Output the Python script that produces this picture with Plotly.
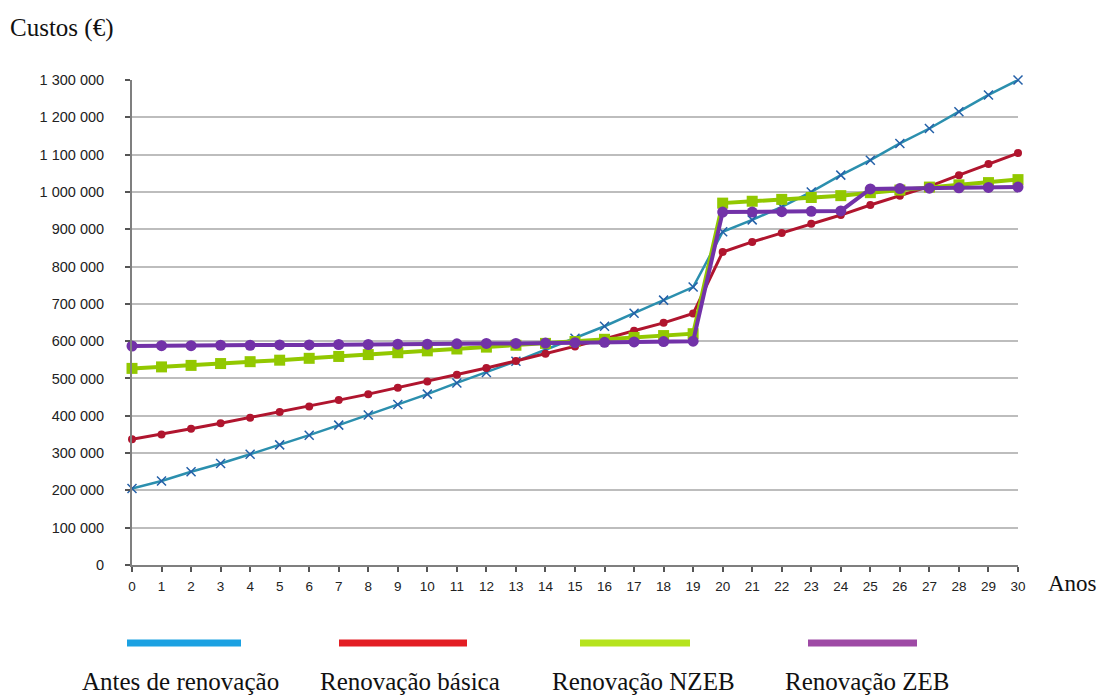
import plotly.graph_objects as go

anos = list(range(31))

antes = [205000, 225000, 250000, 272000, 297000, 322000, 348000, 375000, 402000, 430000,
         458000, 488000, 516000, 546000, 577000, 608000, 640000, 675000, 710000, 745000,
         893000, 925000, 960000, 1000000, 1045000, 1085000, 1130000, 1170000, 1215000, 1260000, 1300000]
basica = [337000, 350000, 365000, 380000, 395000, 410000, 425000, 442000, 458000, 475000,
          492000, 510000, 528000, 547000, 566000, 586000, 606000, 628000, 649000, 674000,
          839000, 866000, 890000, 915000, 938000, 965000, 990000, 1015000, 1045000, 1075000, 1104000]
nzeb = [527000, 531000, 535000, 540000, 545000, 549000, 554000, 559000, 564000, 569000,
        574000, 579000, 584000, 589000, 594000, 599000, 605000, 610000, 615000, 620000,
        970000, 975000, 980000, 985000, 990000, 998000, 1005000, 1013000, 1019000, 1025000, 1033000]
zeb = [587000, 588000, 588000, 589000, 589000, 590000, 590000, 591000, 591000, 592000,
       592000, 593000, 594000, 594000, 595000, 596000, 597000, 598000, 599000, 600000,
       946000, 946000, 947000, 948000, 949000, 1008000, 1009000, 1010000, 1011000, 1012000, 1013000]

nomes = ["Antes de renovação", "Renovação básica", "Renovação NZEB", "Renovação ZEB"]
y_ticks = list(range(0, 1300001, 100000))

fig = go.Figure()
fig.add_trace(go.Scatter(x=anos, y=antes, mode="lines+markers", name=nomes[0],
                         line=dict(color="#2B8FAE", width=2.5),
                         marker=dict(symbol="x-thin-open", size=9, color="#2460A8",
                                     line=dict(width=1.5, color="#2460A8")),
                         cliponaxis=False))
fig.add_trace(go.Scatter(x=anos, y=basica, mode="lines+markers", name=nomes[1],
                         line=dict(color="#B0152E", width=3),
                         marker=dict(symbol="circle", size=8, color="#B0152E"),
                         cliponaxis=False))
fig.add_trace(go.Scatter(x=anos, y=nzeb, mode="lines+markers", name=nomes[2],
                         line=dict(color="#92C800", width=4),
                         marker=dict(symbol="square", size=11, color="#92C800"),
                         cliponaxis=False))
fig.add_trace(go.Scatter(x=anos, y=zeb, mode="lines+markers", name=nomes[3],
                         line=dict(color="#7232A8", width=4),
                         marker=dict(symbol="circle", size=11, color="#7232A8"),
                         cliponaxis=False))

# page body has an 8px margin: shift everything up-left by 8px
fig.update_layout(
    width=1091, height=689,
    margin=dict(l=124, r=81, t=72, b=132, autoexpand=False),
    paper_bgcolor="white", plot_bgcolor="white",
    showlegend=False,
    separators=", ",
    font=dict(family="Liberation Sans, Arial", size=13, color="#333333"),
)
fig.update_xaxes(range=[0, 30], tickmode="array", tickvals=anos,
                 showgrid=False, showline=True, linecolor="#7F7F7F", linewidth=2,
                 ticks="outside", ticklen=5, tickcolor="#555555", tickwidth=2,
                 tickfont=dict(size=13.5, color="#222222"), zeroline=False,
                 ticklabelstandoff=3)
fig.update_yaxes(range=[0, 1300000], tickmode="array", tickvals=y_ticks,
                 tickformat=",d", showgrid=True, gridcolor="#BDBDBD", gridwidth=2,
                 showline=True, linecolor="#7F7F7F", linewidth=2,
                 ticks="outside", ticklen=5, tickcolor="#555555", tickwidth=2,
                 tickfont=dict(size=14.5, color="#222222"), zeroline=False, ticklabelstandoff=18)

serif = "Liberation Serif, Times New Roman"
fig.add_annotation(text="Custos (€)", xref="paper", yref="paper", x=-124/886, y=1 + 52/485,
                   xanchor="left", yanchor="middle", showarrow=False,
                   font=dict(family=serif, size=25, color="#111111"))
fig.add_annotation(text="Anos", xref="paper", yref="paper", x=1 + 28/886, y=-18/485,
                   xanchor="left", yanchor="middle", showarrow=False,
                   font=dict(family=serif, size=23, color="#111111"))

leg_colors = ["#1BA1E2", "#E31E24", "#B5E31D", "#9E4AA5"]
leg_bars = [(127, 241), (339, 467), (580, 690), (808, 917)]
leg_text_x = [180, 410, 643, 867]
for c, (x0, x1), tx, nm in zip(leg_colors, leg_bars, leg_text_x, nomes):
    fig.add_shape(type="line", xref="paper", yref="paper",
                  x0=(x0 - 132) / 886, x1=(x1 - 132) / 886,
                  y0=(565 - 643) / 485, y1=(565 - 643) / 485,
                  line=dict(color=c, width=7))
    fig.add_annotation(text=nm, xref="paper", yref="paper",
                       x=(tx - 132) / 886, y=(565 - 681) / 485,
                       xanchor="center", yanchor="middle", showarrow=False,
                       font=dict(family=serif, size=25, color="#111111"))

fig.write_html("out.html")
